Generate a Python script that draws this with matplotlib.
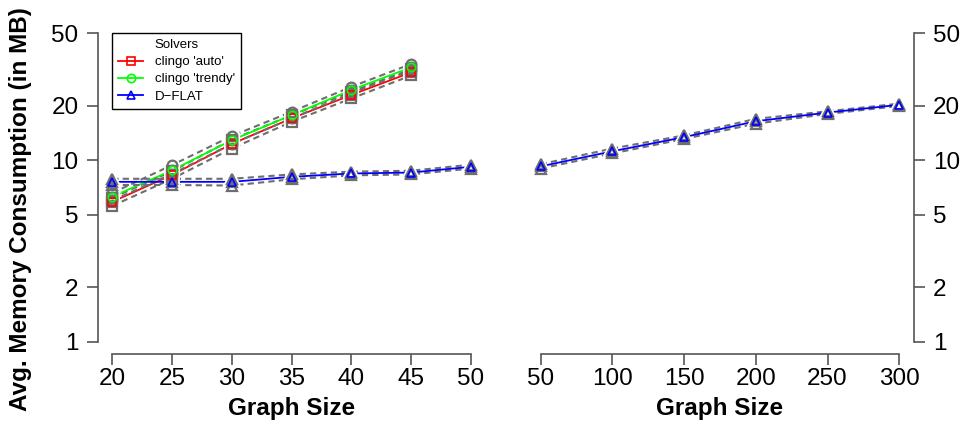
import matplotlib
matplotlib.use("Agg")
import matplotlib.pyplot as plt
from matplotlib.ticker import FixedLocator, NullLocator

plt.rcParams['font.family'] = ['Liberation Sans', 'DejaVu Sans']

# left panel: small graphs
sizes_small = [20, 25, 30, 35, 40, 45]
auto_mean = [5.9, 8.3, 12.3, 17.0, 22.9, 30.5]
auto_low = [5.6, 7.9, 11.6, 16.3, 21.9, 29.3]
auto_high = [6.2, 8.7, 13.0, 17.7, 23.9, 31.7]
trendy_mean = [6.3, 8.8, 12.9, 17.7, 24.4, 32.5]
trendy_low = [6.0, 8.4, 12.3, 17.0, 23.4, 31.3]
trendy_high = [6.6, 9.4, 13.6, 18.5, 25.4, 33.9]

sizes_dflat = [20, 25, 30, 35, 40, 45, 50]
dflat_mean = [7.6, 7.6, 7.6, 8.1, 8.45, 8.55, 9.2]
dflat_low = [7.3, 7.3, 7.25, 7.85, 8.25, 8.35, 9.0]
dflat_high = [7.9, 7.9, 7.9, 8.35, 8.65, 8.75, 9.45]

# right panel: large graphs (D-FLAT only)
sizes_large = [50, 100, 150, 200, 250, 300]
dflat_big_mean = [9.25, 11.2, 13.4, 16.4, 18.3, 20.2]
dflat_big_low = [9.0, 10.9, 13.1, 15.9, 18.0, 19.9]
dflat_big_high = [9.5, 11.6, 13.7, 16.9, 18.6, 20.5]

y_ticks = [1, 2, 5, 10, 20, 50]
gray = '#6e6e6e'
axis_col = '#555555'
fs = 17.5

fig = plt.figure(figsize=(9.63, 4.26), dpi=100)
ax1 = fig.add_axes([0.1017, 0.169, 0.4023, 0.7817])
ax2 = fig.add_axes([0.5466, 0.169, 0.4021, 0.7817])


def draw(ax, x, mean, low, high, color, marker, label):
    # lines first, then white halos to leave R-style gaps, then the markers
    for band in (low, high):
        ax.plot(x, band, color=gray, ls=(0, (3, 2)), lw=1.5, zorder=2)
        ax.plot(x, band, ls='none', marker=marker, ms=7, mfc='white', mec='white',
                mew=4, zorder=3)
        ax.plot(x, band, ls='none', marker=marker, ms=7, mfc='none', mec=gray,
                mew=1.6, zorder=4)
    ax.plot(x, mean, color=color, lw=1.3, zorder=2)
    ax.plot(x, mean, ls='none', marker=marker, ms=7, mfc='white', mec='white',
            mew=4, zorder=3)
    ax.plot(x, mean, ls='none', marker=marker, ms=7, mfc='none', mec=gray,
            mew=1.6, zorder=4)
    ax.plot(x, mean, ls='none', marker=marker, ms=6, mfc='none', mec=color,
            mew=1.2, zorder=5)
    ax.plot([], [], color=color, lw=1.3, marker=marker, ms=6, mfc='none',
            mec=color, mew=1.2, label=label)


draw(ax1, sizes_small, auto_mean, auto_low, auto_high, '#ff0000', 's', "clingo 'auto'")
draw(ax1, sizes_small, trendy_mean, trendy_low, trendy_high, '#00ff00', 'o', "clingo 'trendy'")
draw(ax1, sizes_dflat, dflat_mean, dflat_low, dflat_high, '#0000ff', '^', 'D\u2212FLAT')
draw(ax2, sizes_large, dflat_big_mean, dflat_big_low, dflat_big_high, '#0000ff', '^', 'D\u2212FLAT')

for ax in (ax1, ax2):
    ax.set_yscale('log')
    ax.set_ylim(0.855, 58.5)
    ax.yaxis.set_major_locator(FixedLocator(y_ticks))
    ax.yaxis.set_minor_locator(NullLocator())
    ax.set_yticklabels([str(t) for t in y_ticks])
    for s in ax.spines.values():
        s.set_visible(False)
    ax.spines['bottom'].set_visible(True)
    ax.spines['bottom'].set_color(axis_col)
    ax.spines['bottom'].set_linewidth(1.2)
    ax.tick_params(axis='x', length=8, width=1.2, color=axis_col, pad=2, labelsize=fs)
    ax.tick_params(axis='y', length=8, width=1.2, color=axis_col, pad=6, labelsize=fs)
    ax.set_xlabel('Graph Size', fontsize=fs, fontweight='bold', labelpad=5)
    ax.patch.set_visible(False)

ax1.set_xlim(18.8, 51.2)
ax1.set_xticks([20, 25, 30, 35, 40, 45, 50])
ax1.spines['bottom'].set_bounds(20, 50)
ax1.spines['left'].set_visible(True)
ax1.spines['left'].set_color(axis_col)
ax1.spines['left'].set_linewidth(1.2)
ax1.spines['left'].set_bounds(1, 50)

ax2.set_xlim(40, 310)
ax2.set_xticks(sizes_large)
ax2.spines['bottom'].set_bounds(50, 300)
ax2.spines['right'].set_visible(True)
ax2.spines['right'].set_color(axis_col)
ax2.spines['right'].set_linewidth(1.2)
ax2.spines['right'].set_bounds(1, 50)
ax2.yaxis.tick_right()

fig.text(0.021, 0.51, 'Avg. Memory Consumption (in MB)', rotation=90, ha='center',
         va='center', fontsize=fs, fontweight='bold')

leg = ax1.legend(loc='upper left', bbox_to_anchor=(0.0364, 0.964), borderaxespad=0,
                 title='Solvers', fontsize=9.5, title_fontsize=9.5, fancybox=False,
                 edgecolor='black', framealpha=1, handlelength=1.9, handletextpad=0.9,
                 labelspacing=0.38, borderpad=0.45)
leg.get_frame().set_linewidth(1.0)

fig.savefig('out.png', dpi=100)
